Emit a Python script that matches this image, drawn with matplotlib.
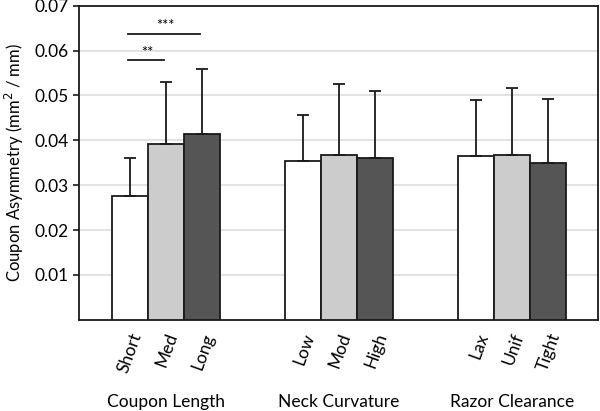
import numpy as np
import matplotlib.pyplot as plt

plt.rcParams['font.family'] = ['Lato', 'DejaVu Sans']

groups = ['Coupon Length', 'Neck Curvature', 'Razor Clearance']
levels = [['Short', 'Med', 'Long'], ['Low', 'Mod', 'High'], ['Lax', 'Unif', 'Tight']]
means = [[0.0276, 0.0391, 0.0414],
         [0.0353, 0.0368, 0.0360],
         [0.0364, 0.0368, 0.0350]]
errs = [[0.0084, 0.0139, 0.0144],
        [0.0103, 0.0158, 0.0150],
        [0.0125, 0.0149, 0.0142]]
colors = ['white', '#cccccc', '#555555']

# significance brackets: (from bar, to bar, height, label) within first group
sig = [(0, 1, 0.0578, '**'), (0, 2, 0.0638, '***')]

fig = plt.figure(figsize=(6, 4.11), dpi=100)
ax = fig.add_axes([0.132, 0.222, 0.865, 0.764])

w = 0.208
offs = np.array([-1, 0, 1]) * w
ticks, labels = [], []
for g in range(3):
    for k in range(3):
        x = g + offs[k]
        ax.bar(x, means[g][k], w, color=colors[k], edgecolor='#1a1a1a', linewidth=1.3, zorder=3)
        ax.errorbar(x, means[g][k], yerr=[[0], [errs[g][k]]], fmt='none', ecolor='#1a1a1a',
                    elinewidth=1.3, capsize=4.5, capthick=1.3, zorder=4)
        ticks.append(x)
        labels.append(levels[g][k])

for a, b, h, s in sig:
    ax.plot([offs[a] - 0.01, offs[b] - 0.01], [h, h], color='#1a1a1a', lw=1.3)
    ax.text((offs[a] + offs[b]) / 2, h + 0.0002, s, ha='center', va='bottom', fontsize=10.5)

ax.set_xlim(-0.5, 2.5)
ax.set_ylim(0, 0.07)
ax.set_yticks([0.01, 0.02, 0.03, 0.04, 0.05, 0.06, 0.07])
ax.set_yticklabels(['0.01', '0.02', '0.03', '0.04', '0.05', '0.06', '0.07'], fontsize=12.5)
ax.yaxis.grid(True, color='#dddddd', lw=1.2, zorder=0)
ax.set_axisbelow(True)
ax.set_xticks(ticks)
ax.set_xticklabels(labels, rotation=70, ha='right', rotation_mode='anchor', fontsize=12.5)
ax.tick_params(axis='x', length=0, pad=8)
ax.tick_params(axis='y', length=4, width=1.2, color='#1a1a1a')
for sp in ax.spines.values():
    sp.set_linewidth(1.3)
    sp.set_color('#1a1a1a')

for g in range(3):
    ax.text(g, -0.0183, groups[g], ha='center', va='center', fontsize=12.5)

ax.set_ylabel('Coupon Asymmetry (mm$^2$ / mm)', fontsize=12, labelpad=6)

fig.savefig('out.png', dpi=100)
